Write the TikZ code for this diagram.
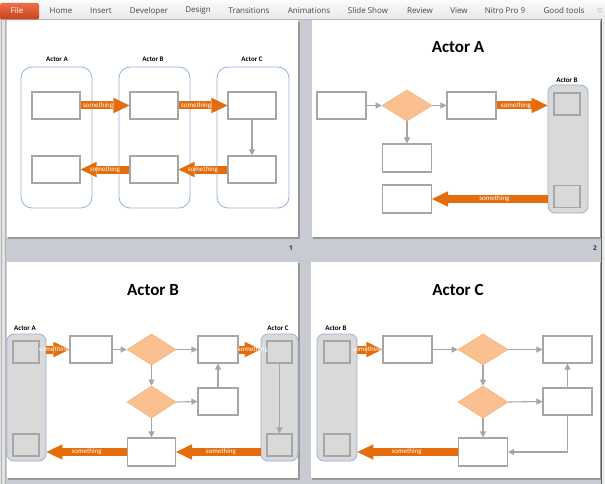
\documentclass[tikz,border=0pt]{standalone}
\usepackage{fontspec}
\setmainfont{Carlito}
\newfontfamily\uifont{Open Sans}
\newfontfamily\symfont{DejaVu Sans}
\usetikzlibrary{arrows.meta,shapes.geometric}
\definecolor{bggray}{RGB}{200,204,210}
\definecolor{boxgray}{RGB}{166,166,166}
\definecolor{laneblue}{RGB}{149,179,215}
\definecolor{lanefill}{RGB}{217,217,217}
\definecolor{orangeflow}{RGB}{228,108,10}
\definecolor{peach}{RGB}{250,192,144}
\definecolor{peachline}{RGB}{244,176,124}
\definecolor{tabtext}{RGB}{70,70,70}
\definecolor{filetop}{RGB}{236,112,72}
\definecolor{filebot}{RGB}{200,66,28}
\begin{document}
\begin{tikzpicture}
  [x=1pt,y=-1pt,
   box/.style={draw=boxgray,fill=white,line width=1.1pt,minimum width=49pt,minimum height=27pt,inner sep=0pt},
   sq/.style={draw=boxgray,fill=lanefill,line width=1.1pt,minimum width=26pt,minimum height=22pt,inner sep=0pt},
   dec/.style={diamond,draw=peachline,fill=peach,line width=.6pt,minimum width=50pt,minimum height=31pt,inner sep=0pt},
   lane/.style={draw=laneblue,line width=.8pt,rounded corners=11pt,inner sep=0pt},
   glane/.style={lane,fill=lanefill,rounded corners=7pt},
   lanelbl/.style={font=\bfseries\fontsize{7}{8}\selectfont,inner sep=0pt},
   ttl/.style={font=\bfseries\fontsize{17}{20}\selectfont,inner sep=0pt},
   conn/.style={draw=boxgray,line width=1.1pt,-{Triangle[width=6pt,length=6pt]}},
   flow/.style={draw=orangeflow,line width=8pt,-{Triangle[width=15.5pt,length=16pt,line width=0pt]}},
   flowtxt/.style={text=white,font=\fontsize{7}{8}\selectfont,inner sep=0pt},
   tab/.style={text=tabtext,font=\uifont\fontsize{8}{9}\selectfont,inner sep=0pt},
   pgnum/.style={text=black!80,font=\uifont\bfseries\fontsize{6.5}{7}\selectfont,inner sep=0pt}]
\useasboundingbox (0,0) rectangle (605,484);
\fill[bggray] (0,0) rectangle (605,484);

% ribbon
\shade[top color=white!97!gray,bottom color=gray!18] (0,0) rectangle (605,19);
\draw[gray!55] (0,19) -- (605,19);
\shade[top color=filetop,bottom color=filebot,rounded corners=2pt] (0,3) rectangle (39,19.5);
\node[text=white,font=\uifont\fontsize{8}{9}\selectfont,inner sep=0pt] (tFile) at (17,11) {File};
\node[tab] (tHome) at (61,11) {Home};
\node[tab] (tInsert) at (101,11) {Insert};
\node[tab] (tDev) at (149,11) {Developer};
\node[tab] (tDesign) at (198,11) {Design};
\node[tab] (tTrans) at (249,11) {Transitions};
\node[tab] (tAnim) at (309,11) {Animations};
\node[tab] (tShow) at (368,11) {Slide Show};
\node[tab] (tReview) at (420,11) {Review};
\node[tab] (tView) at (459,11) {View};
\node[tab] (tNitro) at (505,11) {Nitro Pro 9};
\node[tab] (tGood) at (564,11) {Good tools};
\node[text=tabtext,font=\symfont\fontsize{7}{8}\selectfont,inner sep=0pt] (tHeart) at (600,11) {♡};

% pane edges
\fill[gray!22] (0,20) rectangle (6,484);
\draw[gray!60] (1.5,20) -- (1.5,484) (5.5,20) -- (5.5,484);
\fill[gray!15] (602,19) rectangle (605,484);
\draw[black!65,line width=1.5pt] (601.5,19) -- (601.5,484);

% slides
\fill[black!40] (8,22) rectangle (300,239);
\fill[white] (7,20) rectangle (298,237);
\fill[black!40] (313,22) rectangle (601,239);
\fill[white] (312,20) rectangle (600,237);
\fill[black!40] (8,263) rectangle (300,480);
\fill[white] (7,262) rectangle (298,478);
\fill[black!40] (312,263) rectangle (601,480);
\fill[white] (311,262) rectangle (600,478);
\node[pgnum] (num1) at (291,248) {1};
\node[pgnum] (num2) at (595,248) {2};

% slide 1
\node[lane,minimum width=71pt,minimum height=141pt] (laneA) at (56.5,137.5) {};
\node[lane,minimum width=71pt,minimum height=141pt] (laneB) at (154.5,137.5) {};
\node[lane,minimum width=72pt,minimum height=141pt] (laneC) at (253,137.5) {};
\node[lanelbl] (lblA) at (57,59) {Actor A};
\node[lanelbl] (lblB) at (153,59) {Actor B};
\node[lanelbl] (lblC) at (252,59) {Actor C};
\node[box,minimum width=48pt] (a1) at (56,105.5) {};
\node[box,minimum width=48pt] (a2) at (56,169.5) {};
\node[box,minimum width=48pt] (b1) at (154,105.5) {};
\node[box,minimum width=48pt] (b2) at (154,169.5) {};
\node[box,minimum width=48pt] (c1) at (252,105.5) {};
\node[box,minimum width=48pt] (c2) at (252,169.5) {};
\draw[flow] (a1.east) -- node[flowtxt,pos=.36]{something} (b1.west);
\draw[flow] (b1.east) -- node[flowtxt,pos=.36]{something} (c1.west);
\draw[conn] (c1.south) -- (c2.north);
\draw[flow] (c2.west) -- node[flowtxt,pos=.5]{something} (b2.east);
\draw[flow] (b2.west) -- node[flowtxt,pos=.5]{something} (a2.east);

% slide 2
\node[ttl] (ttlA) at (458,47) {Actor A};
\node[glane,minimum width=40pt,minimum height=128pt] (pBlane) at (568,149) {};
\node[lanelbl] (pBlbl) at (567,80) {Actor B};
\node[sq] (pBs1) at (567,104) {};
\node[sq] (pBs2) at (567,196.5) {};
\node[box] (p1) at (341.5,105.5) {};
\node[dec] (pd) at (407,105.5) {};
\node[box] (p2) at (471.5,105.5) {};
\node[box,minimum height=28pt] (p3) at (407,158) {};
\node[box,minimum height=28pt] (p4) at (407,199) {};
\draw[conn] (p1.east) -- (pd.west);
\draw[conn] (pd.east) -- (p2.west);
\draw[conn] (pd.south) -- (p3.north);
\draw[flow] (p2.east) -- node[flowtxt,pos=.38]{something} (pBlane.west |- p2);
\draw[flow] (pBlane.west |- p4) -- node[flowtxt,pos=.46]{something} (p4.east);

% slide 3
\node[ttl] (ttlB) at (153,290) {Actor B};
\node[glane,minimum width=39pt,minimum height=127pt] (qAlane) at (26.5,397.5) {};
\node[lanelbl] (qAlbl) at (25,328) {Actor A};
\node[sq] (qAs1) at (26,352) {};
\node[sq] (qAs2) at (26,445) {};
\node[glane,minimum width=37pt,minimum height=127pt] (qClane) at (279.5,397.5) {};
\node[lanelbl] (qClbl) at (278,328) {Actor C};
\node[sq,minimum width=25pt] (qCs1) at (279.5,352) {};
\node[sq,minimum width=25pt] (qCs2) at (279.5,445) {};
\node[box,minimum width=42pt] (q1) at (91,349.5) {};
\node[dec,minimum width=49pt] (qd1) at (151.5,349.5) {};
\node[box,minimum width=40pt] (q2) at (218,349.5) {};
\node[dec,minimum width=49pt,minimum height=32pt] (qd2) at (151.5,402) {};
\node[box,minimum width=40pt] (q3) at (218,401.5) {};
\node[box,minimum width=48pt,minimum height=28pt] (q4) at (151.5,452) {};
\draw[conn] (q1.east) -- (qd1.west);
\draw[conn] (qd1.east) -- (q2.west);
\draw[conn] (qd1.south) -- (qd2.north);
\draw[conn] (qd2.east) -- (q3.west);
\draw[conn] (q3.north) -- (q2.south);
\draw[conn] (qd2.south) -- (q4.north);
\draw[conn] (qCs1.south) -- (qCs2.north);
\draw[flow] (qAlane.east |- q1) -- node[flowtxt,pos=.33]{something} (q1.west);
\draw[flow] (q2.east) -- node[flowtxt,pos=.65]{something} (qClane.west |- q2);
\draw[flow] (qClane.west |- q4) -- node[flowtxt,pos=.47]{something} (q4.east);
\draw[flow] (q4.west) -- node[flowtxt,pos=.5]{something} (qAlane.east |- q4);

% slide 4
\node[ttl] (ttlC) at (458,290) {Actor C};
\node[glane,minimum width=40pt,minimum height=127pt] (rBlane) at (337,397.5) {};
\node[lanelbl] (rBlbl) at (336,328) {Actor B};
\node[sq] (rBs1) at (337,352) {};
\node[sq] (rBs2) at (337,445) {};
\node[box] (r1) at (407.5,349.5) {};
\node[dec] (rd1) at (483,349.5) {};
\node[box] (r2) at (567.5,349.5) {};
\node[dec,minimum height=32pt] (rd2) at (483,402) {};
\node[box] (r3) at (567.5,401.5) {};
\node[box,minimum height=28pt] (r4) at (483,452) {};
\draw[conn] (r1.east) -- (rd1.west);
\draw[conn] (rd1.east) -- (r2.west);
\draw[conn] (rd1.south) -- (rd2.north);
\draw[conn] (rd2.east) -- (r3.west);
\draw[conn] (r3.north) -- (r2.south);
\draw[conn] (rd2.south) -- (r4.north);
\draw[conn] (r3.south) |- (r4.east);
\draw[flow] (rBlane.east |- r1) -- node[flowtxt,pos=.4]{something} (r1.west);
\draw[flow] (r4.west) -- node[flowtxt,pos=.51]{something} (rBlane.east |- r4);
\end{tikzpicture}
\end{document}
